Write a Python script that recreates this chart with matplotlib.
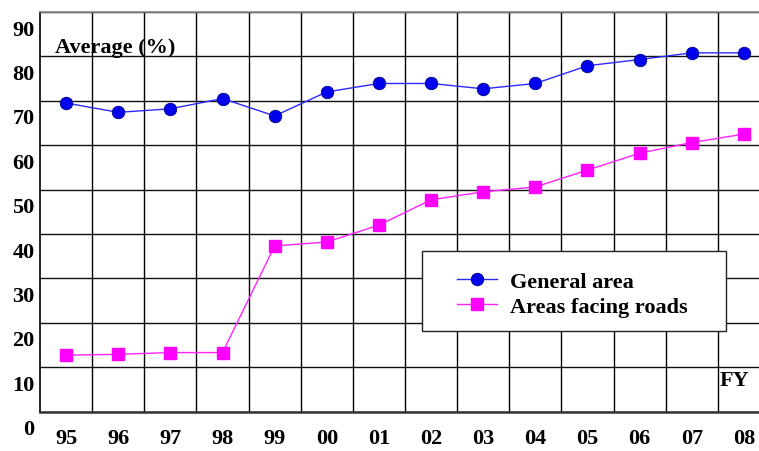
import matplotlib
matplotlib.use("Agg")
import matplotlib.pyplot as plt
from matplotlib.patches import Rectangle
from matplotlib.transforms import ScaledTranslation

years = ["95", "96", "97", "98", "99", "00", "01", "02", "03", "04", "05", "06", "07", "08"]
general_area = [69.5, 67.4, 68.2, 70.5, 66.6, 72.0, 73.9, 73.9, 72.7, 73.9, 77.9, 79.3, 80.8, 80.8]
roads_area = [12.7, 12.9, 13.3, 13.3, 37.3, 38.2, 42.0, 47.7, 49.5, 50.6, 54.4, 58.2, 60.6, 62.5]
ytick_labels = ["0", "10", "20", "30", "40", "50", "60", "70", "80", "90"]

W, H = 759, 452
fig = plt.figure(figsize=(W / 100, H / 100), dpi=100)
ax = fig.add_axes([40 / W, 1 - 412.6 / H, (770 - 40) / W, (412.6 - 13) / H])

x = list(range(len(years)))
ax.plot(x, general_area, color="#2a2aff", lw=1.0, marker="o", ms=9,
        mfc="#0000ee", mec="#00008a", mew=0.6, label="General area", zorder=3)
ax.plot(x, roads_area, color="#ff22ff", lw=1.0, marker="s", ms=9,
        mfc="#ff00ff", mec="#ff00ff", label="Areas facing roads", zorder=3)

ax.set_xlim(-0.5, len(years) - 0.5)
ax.set_ylim(0, 90)

ax.set_xticks(x)
ax.set_xticklabels(years)
ax.set_xticks([i + 0.5 for i in x[:-1]], minor=True)
ax.set_yticks(range(0, 91, 10))
ax.set_yticklabels(ytick_labels)

font = dict(family="Liberation Serif", weight="bold", size=16)
for lab in ax.get_xticklabels() + ax.get_yticklabels():
    lab.set_fontfamily("Liberation Serif")
    lab.set_fontweight("bold")
    lab.set_fontsize(16)
ax.tick_params(axis="both", which="both", length=0)
ax.tick_params(axis="x", pad=12)
ax.tick_params(axis="y", pad=4)
for lab in ax.get_yticklabels():
    lab.set_transform(lab.get_transform() + ScaledTranslation(0, -15 / 100, fig.dpi_scale_trans))

ax.grid(True, which="minor", axis="x", color="black", lw=1.0)
ax.grid(True, which="major", axis="y", color="#111111", lw=1.0)
ax.grid(False, which="major", axis="x")
ax.set_axisbelow(True)

ax.spines["right"].set_visible(False)
ax.spines["top"].set_color("#888888")
ax.spines["top"].set_linewidth(1.2)
ax.spines["left"].set_color("black")
ax.spines["left"].set_linewidth(1.2)
ax.spines["bottom"].set_color("#333333")
ax.spines["bottom"].set_linewidth(1.8)

ax.text(-0.21, 82.1, "Average (%)", va="center", ha="left", **font)
ax.text(12.81, 7.1, "FY", va="center", ha="center", **font)

fig.patches.append(Rectangle((422 / W, 1 - 332 / H), 304 / W, 80 / H,
                             transform=fig.transFigure, facecolor="white",
                             edgecolor="#222222", lw=1.0, zorder=5))
leg = fig.legend(loc="upper left", bbox_to_anchor=(457 / W, 1 - 272 / H),
                 frameon=False, borderpad=0, borderaxespad=0,
                 handlelength=1.8, handletextpad=0.6, labelspacing=0.2,
                 prop=dict(family="Liberation Serif", weight="bold", size=16))
leg.set_zorder(6)

fig.savefig("out.png", dpi=100)
